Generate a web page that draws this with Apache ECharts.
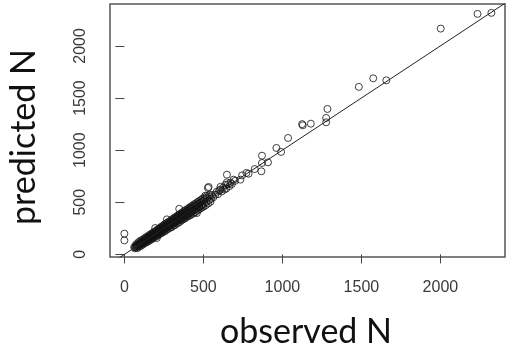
<!DOCTYPE html>
<html>
<head>
<meta charset="utf-8">
<script src="https://cdn.jsdelivr.net/npm/echarts@6/dist/echarts.min.js"></script>
<style>html,body{margin:0;padding:0;background:#fff;}#chart{width:508px;height:350px;}</style>
</head>
<body>
<div id="chart"></div>
<script>
// Data
var observedN = [
  0, 0,
  62, 66, 70, 73, 77, 80, 84, 86, 89, 93, 95, 98, 101, 104, 107, 111, 113, 116, 119, 122,
  124, 127, 131, 133, 136, 139, 141, 144, 148, 150, 153, 156, 158, 161, 164, 167, 169, 172,
  175, 178, 180, 183, 186, 189, 191, 194, 195, 197, 200, 203, 205, 207, 210, 213, 216, 219,
  221, 224, 227, 230, 232, 235, 238, 241, 243, 246, 249, 252, 254, 257, 260, 262, 265, 268,
  269, 273, 276, 279, 282, 284, 287, 290, 293, 296, 298, 301, 304, 307, 310, 312, 315, 318,
  321, 324, 327, 329, 332, 335, 338, 341, 344, 347, 350, 352, 355, 358, 361, 364, 367, 370,
  373, 376, 379, 382, 385, 388, 391, 394, 397, 400, 404, 408, 411, 415, 418, 422, 425, 429,
  433, 437, 440, 444, 448, 452, 456, 459, 461, 465, 470, 474, 478, 483, 487, 492, 497, 502,
  506, 512, 518, 524, 529, 533, 536, 541, 548, 555, 563, 575, 584, 592, 600, 607, 608, 616,
  625, 633, 640, 645, 649, 649, 656, 665, 672, 680, 691, 700, 734, 745, 772, 786, 825, 867,
  871, 871, 909, 962, 992, 1036, 1125, 1129, 1180, 1277, 1277, 1285, 1484, 1575, 1658,
  2002, 2235, 2323,
  75, 82, 90, 97, 103, 109, 114, 121, 126, 132, 137, 142, 147, 152, 157, 163, 168, 173,
  177, 182, 187, 192, 198, 202, 208, 212, 217, 222, 226, 231, 236, 240, 245, 250, 255, 259,
  264, 270, 275, 280, 285, 291, 295, 300, 306, 311, 316, 320, 326, 331, 336, 340, 346, 351,
  357, 362, 366, 372, 377, 383, 387, 393, 398, 403, 409, 414, 419, 424, 430, 436, 441, 447,
  452, 458, 463, 468, 473, 479, 485, 490, 496, 501, 508, 515, 522, 530, 538, 545
];
var predictedN = [
  199, 134,
  70, 58, 78, 66, 85, 74, 92, 80, 83, 101, 90, 108, 96, 112, 99, 121, 106, 125, 112, 131,
  118, 137, 124, 142, 130, 150, 133, 155, 140, 160, 146, 168, 150, 172, 156, 180, 162, 184,
  166, 190, 172, 196, 176, 200, 183, 207, 253, 188, 212, 192, 157, 221, 200, 226, 206, 232,
  211, 238, 216, 244, 221, 250, 228, 255, 232, 260, 238, 267, 243, 272, 248, 278, 255, 283,
  336, 262, 292, 268, 297, 272, 303, 279, 309, 284, 314, 289, 321, 295, 327, 300, 332, 306,
  338, 311, 344, 318, 350, 322, 356, 329, 362, 437, 335, 370, 342, 376, 348, 382, 354, 389,
  358, 394, 365, 400, 371, 406, 376, 413, 383, 419, 389, 426, 396, 433, 402, 441, 410, 447,
  418, 455, 424, 462, 432, 470, 440, 397, 478, 449, 487, 457, 495, 466, 503, 475, 512, 485,
  522, 563, 502, 540, 637, 647, 520, 556, 532, 570, 548, 573, 600, 578, 612, 621, 648, 604,
  640, 622, 667, 632, 691, 765, 672, 655, 688, 675, 717, 705, 717, 758, 781, 774, 819, 797,
  947, 877, 883, 1021, 983, 1117, 1250, 1238, 1254, 1267, 1309, 1395, 1607, 1689, 1670,
  2166, 2307, 2317,
  98, 60, 118, 75, 132, 86, 141, 99, 152, 110, 165, 118, 172, 126, 185, 137, 194, 146,
  205, 155, 214, 166, 224, 175, 236, 181, 246, 195, 255, 203, 267, 209, 276, 219, 289, 225,
  297, 240, 308, 246, 317, 258, 328, 262, 340, 276, 351, 281, 360, 296, 371, 303, 382, 312,
  393, 327, 402, 337, 414, 344, 425, 358, 433, 366, 447, 372, 456, 385, 468, 392, 480, 403,
  489, 419, 501, 428, 512, 437, 523, 449, 536, 458, 545, 472, 561, 488, 571, 505
];
var tickValues = [0, 500, 1000, 1500, 2000];
var xRange = [-91, 2409];
var yRange = [-25, 2402];

var points = observedN.map(function (v, i) { return [v, predictedN[i]]; });
function plainLabel(v) { return String(v); }

var chart = echarts.init(document.getElementById('chart'), null, { renderer: 'canvas' });
chart.setOption({
  animation: false,
  backgroundColor: '#ffffff',
  grid: {
    left: 110, right: 3, top: 4, bottom: 93,
    show: true, borderColor: '#555', borderWidth: 1.5, backgroundColor: 'transparent'
  },
  xAxis: {
    type: 'value', min: xRange[0], max: xRange[1],
    axisLine: { show: false },
    splitLine: { show: false },
    axisTick: { show: true, inside: false, length: 9, lineStyle: { color: '#444', width: 1 }, customValues: tickValues },
    axisLabel: { customValues: tickValues, formatter: plainLabel, margin: 23, fontFamily: 'Liberation Sans', fontSize: 16, color: '#3a3a3a' }
  },
  yAxis: {
    type: 'value', min: yRange[0], max: yRange[1],
    axisLine: { show: false },
    splitLine: { show: false },
    axisTick: { show: true, inside: false, length: 9, lineStyle: { color: '#444', width: 1 }, customValues: tickValues },
    axisLabel: { customValues: tickValues, formatter: plainLabel, rotate: 90, margin: 21, fontFamily: 'Liberation Sans', fontSize: 16, color: '#3a3a3a' }
  },
  series: [
    {
      type: 'line',
      data: [[-300, -300], [2700, 2700]],
      symbol: 'none',
      clip: true,
      silent: true,
      lineStyle: { color: '#222', width: 1 }
    },
    {
      type: 'scatter',
      data: points,
      symbol: 'circle',
      symbolSize: 7,
      itemStyle: { color: 'rgba(0,0,0,0)', borderColor: '#111', borderWidth: 1 }
    }
  ],
  graphic: [
    {
      type: 'text', x: 306, y: 332,
      style: { text: 'observed N', fontFamily: 'Lato', fontSize: 34, fill: '#111', align: 'center', verticalAlign: 'middle' }
    },
    {
      type: 'text', x: 24, y: 137, rotation: Math.PI / 2,
      style: { text: 'predicted N', fontFamily: 'Lato', fontSize: 34, fill: '#111', align: 'center', verticalAlign: 'middle' }
    }
  ]
});
</script>
</body>
</html>
